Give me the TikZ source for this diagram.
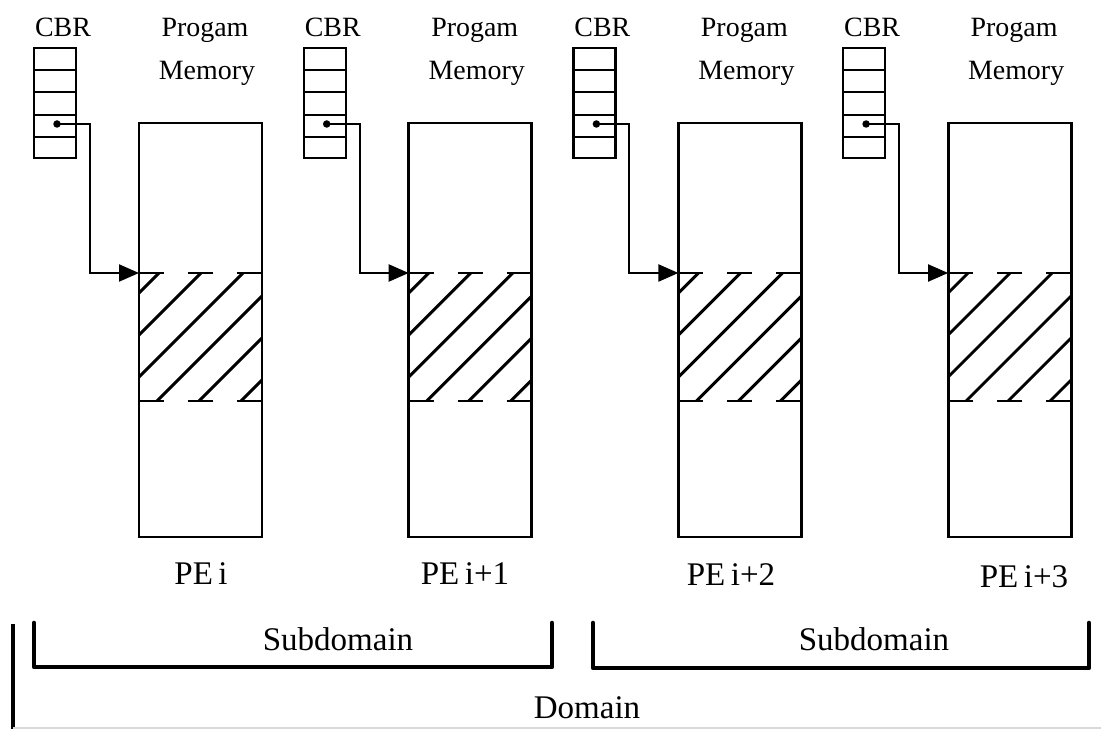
\documentclass[tikz,border=0pt]{standalone}
\usepackage{fontspec}
\setmainfont{Liberation Serif}
\usetikzlibrary{arrows.meta,positioning}

\begin{document}
\begin{tikzpicture}[x=0.02cm, y=-0.02cm,
	box/.style={line width=1.6pt},
	cell/.style={line width=1.3pt},
	ptr/.style={line width=1.2pt, -{Triangle[length=0.4cm, width=0.34cm]}},
	hatch/.style={line width=1.7pt},
	brack/.style={line width=2.6pt, line join=round, line cap=round},
	small/.style={font=\fontsize{15.9}{18}\selectfont, inner sep=0pt, anchor=base},
	big/.style={font=\fontsize{18.8}{22}\selectfont, inner sep=0pt, anchor=base}]
\useasboundingbox (0,0) rectangle (1101,729);

%% Prozessorelemente
\foreach \i in {0,1,2,3} {
\begin{scope}[shift={(\i*269.7,0)}]
	%% Beschriftung
	\node[small] (cbr\i) at (63,37) {CBR};
	\node[small] (prog\i) at (205,37) {Progam};
	\node[small] (memtxt\i) at (207,80) {Memory};

	%% CBR Register
	\draw[cell] (34,48) rectangle (76,158);
	\foreach \y in {70,92,115,137}
		\draw[cell] (34,\y) -- (76,\y);

	%% Programmspeicher
	\draw[box] (139,123) rectangle (262,537);
	\begin{scope}
		\clip (139,273) rectangle (262,401);
		\foreach \c in {20,62,...,230}
			\draw[hatch] (139+\c,273) -- ++(-200,200);
	\end{scope}
	\draw[box, dash pattern=on 0.5cm off 0.48cm] (139,273) -- (262,273);
	\draw[box, dash pattern=on 0.5cm off 0.48cm] (139,401) -- (262,401);

	%% Zeiger
	\coordinate (ptr\i) at (57,124);
	\coordinate (seg\i) at (139,273);
	\fill (ptr\i) circle (0.075cm);
	\draw[ptr] (ptr\i) -- ++(33,0) |- (seg\i);
\end{scope}
}

%% PE Nummern
\node[big] (pe0) at (201,584) {PE\,i};
\node[big] (pe1) at (465,584) {PE\,i+1};
\node[big] (pe2) at (731,585) {PE\,i+2};
\node[big] (pe3) at (1024,587) {PE\,i+3};

%% Teilgebiete
\draw[brack] (34,623) -- (34,667) -- (552,667) -- (552,623);
\node[big] (sub1) at (338,650) {Subdomain};
\draw[brack] (593,623) -- (593,668) -- (1089,668) -- (1089,623);
\node[big] (sub2) at (874,650) {Subdomain};

%% Gebiet
\draw[brack, line cap=butt] (13,624) -- (13,729);
\draw[gray!30, line width=0.6pt] (13,728) -- (1101,728);
\node[big] (dom) at (587,718) {Domain};
\end{tikzpicture}
\end{document}
